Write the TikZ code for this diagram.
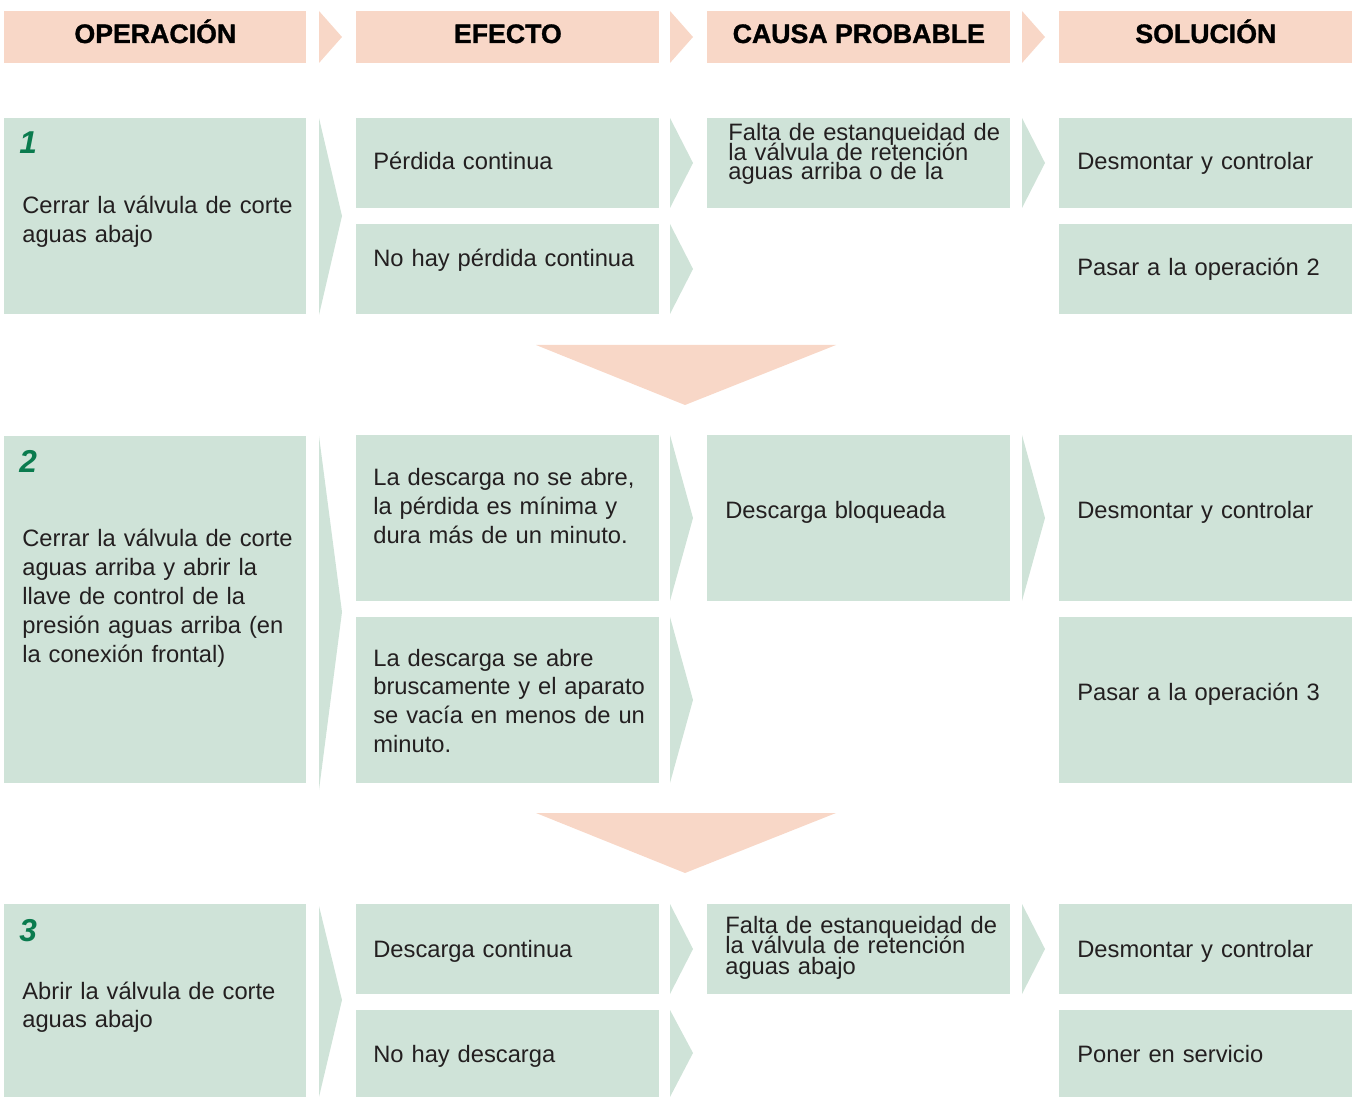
\documentclass[tikz,border=0pt]{standalone}
\usepackage{fontspec}
\setmainfont{Liberation Sans}
\newfontfamily\headfont{Liberation Sans}[UprightFont=*, BoldFont=* Bold, BoldFeatures={FakeBold=1.2}]

\definecolor{peach}{HTML}{F8D7C7}
\definecolor{mint}{HTML}{CFE3D8}
\definecolor{numgreen}{HTML}{0A7B4E}
\definecolor{ink}{HTML}{231F20}

\tikzset{
  headbox/.style={fill=peach, anchor=north west, inner sep=0pt, minimum height=1.04cm},
  headtext/.style={anchor=base, inner sep=0pt, text=black, font=\headfont\fontsize{15.2}{18}\selectfont\bfseries},
  cell/.style={fill=mint, anchor=north west, inner sep=0pt},
  celltext/.style={anchor=base west, inner sep=0pt, text width=6cm, align=left, text=ink, font=\fontsize{13.5}{16.4}\selectfont},
  tight/.style={font=\fontsize{13.5}{11}\selectfont\lineskiplimit-100pt},
  lesstight/.style={font=\fontsize{13.5}{11.9}\selectfont\lineskiplimit-100pt},
  opnum/.style={anchor=base west, inner sep=0pt, text=numgreen, font=\headfont\fontsize{18}{20}\selectfont\bfseries\itshape},
}

\begin{document}
\begin{tikzpicture}[x=0.02cm, y=-0.02cm]
            \useasboundingbox (0,0) rectangle (1352,1097);

            % headers
            \node[headbox, minimum width=6.04cm] (hop) at (4,11) {};
            \node[headbox, minimum width=6.06cm] (hef) at (356,11) {};
            \node[headbox, minimum width=6.06cm] (hca) at (707,11) {};
            \node[headbox, minimum width=5.86cm] (hso) at (1059,11) {};
            \node[headtext] (hop-t) at ([shift={(0,32)}]hop.north) {OPERACIÓN};
            \node[headtext] (hef-t) at ([shift={(0,32)}]hef.north) {EFECTO};
            \node[headtext] (hca-t) at ([shift={(0,32)}]hca.north) {CAUSA PROBABLE};
            \node[headtext] (hso-t) at ([shift={(0,32)}]hso.north) {SOLUCIÓN};
            \fill[peach] (319,11) -- (342,37) -- (319,63) -- cycle;
            \fill[peach] (670,11) -- (693,37) -- (670,63) -- cycle;
            \fill[peach] (1022,11) -- (1045,37) -- (1022,63) -- cycle;

            % operation 1
            \node[cell, minimum width=6.04cm, minimum height=3.92cm] (op1) at (4,118) {};
            \node[cell, minimum width=6.06cm, minimum height=1.8cm] (ef1a) at (356,118) {};
            \node[cell, minimum width=6.06cm, minimum height=1.8cm] (ef1b) at (356,224) {};
            \node[cell, minimum width=6.06cm, minimum height=1.8cm] (ca1) at (707,118) {};
            \node[cell, minimum width=5.86cm, minimum height=1.8cm] (so1a) at (1059,118) {};
            \node[cell, minimum width=5.86cm, minimum height=1.8cm] (so1b) at (1059,224) {};

            \node[opnum] (op1-n) at ([shift={(15,36)}]op1.north west) {1};
            \node[celltext] (op1-t) at ([shift={(18,96)}]op1.north west) {Cerrar la válvula de corte\\aguas abajo};
            \node[celltext] (ef1a-t) at ([shift={(17,52)}]ef1a.north west) {Pérdida continua};
            \node[celltext] (ef1b-t) at ([shift={(17,43)}]ef1b.north west) {No hay pérdida continua};
            \node[celltext, tight] (ca1-t) at ([shift={(21,23)}]ca1.north west) {Falta de estanqueidad de\\la válvula de retención\\aguas arriba o de la};
            \node[celltext] (so1a-t) at ([shift={(18,52)}]so1a.north west) {Desmontar y controlar};
            \node[celltext] (so1b-t) at ([shift={(18,52)}]so1b.north west) {Pasar a la operación 2};

            \fill[mint] (319,118) -- (342,216) -- (319,315) -- cycle;
            \fill[mint] (670,118) -- (693,163) -- (670,208) -- cycle;
            \fill[mint] (670,224) -- (693,269) -- (670,314) -- cycle;
            \fill[mint] (1022,118) -- (1045,163) -- (1022,208) -- cycle;

            \fill[peach] (536,345) -- (836,345) -- (685,405) -- cycle;

            % operation 2
            \node[cell, minimum width=6.04cm, minimum height=6.94cm] (op2) at (4,436) {};
            \node[cell, minimum width=6.06cm, minimum height=3.32cm] (ef2a) at (356,435) {};
            \node[cell, minimum width=6.06cm, minimum height=3.32cm] (ef2b) at (356,617) {};
            \node[cell, minimum width=6.06cm, minimum height=3.32cm] (ca2) at (707,435) {};
            \node[cell, minimum width=5.86cm, minimum height=3.32cm] (so2a) at (1059,435) {};
            \node[cell, minimum width=5.86cm, minimum height=3.32cm] (so2b) at (1059,617) {};

            \node[opnum] (op2-n) at ([shift={(15,37)}]op2.north west) {2};
            \node[celltext] (op2-t) at ([shift={(18,111)}]op2.north west) {Cerrar la válvula de corte\\aguas arriba y abrir la\\llave de control de la\\presión aguas arriba (en\\la conexión frontal)};
            \node[celltext] (ef2a-t) at ([shift={(17,51)}]ef2a.north west) {La descarga no se abre,\\la pérdida es mínima y\\dura más de un minuto.};
            \node[celltext] (ef2b-t) at ([shift={(17,49)}]ef2b.north west) {La descarga se abre\\bruscamente y el aparato\\se vacía en menos de un\\minuto.};
            \node[celltext] (ca2-t) at ([shift={(18,84)}]ca2.north west) {Descarga bloqueada};
            \node[celltext] (so2a-t) at ([shift={(18,84)}]so2a.north west) {Desmontar y controlar};
            \node[celltext] (so2b-t) at ([shift={(18,84)}]so2b.north west) {Pasar a la operación 3};

            \fill[mint] (319,436) -- (342,612) -- (319,790) -- cycle;
            \fill[mint] (670,435) -- (693,518) -- (670,601) -- cycle;
            \fill[mint] (670,617) -- (693,700) -- (670,783) -- cycle;
            \fill[mint] (1022,435) -- (1045,518) -- (1022,601) -- cycle;

            \fill[peach] (536,813) -- (836,813) -- (685,873) -- cycle;

            % operation 3
            \node[cell, minimum width=6.04cm, minimum height=3.86cm] (op3) at (4,904) {};
            \node[cell, minimum width=6.06cm, minimum height=1.8cm] (ef3a) at (356,904) {};
            \node[cell, minimum width=6.06cm, minimum height=1.74cm] (ef3b) at (356,1010) {};
            \node[cell, minimum width=6.06cm, minimum height=1.8cm] (ca3) at (707,904) {};
            \node[cell, minimum width=5.86cm, minimum height=1.8cm] (so3a) at (1059,904) {};
            \node[cell, minimum width=5.86cm, minimum height=1.74cm] (so3b) at (1059,1010) {};

            \node[opnum] (op3-n) at ([shift={(15,37)}]op3.north west) {3};
            \node[celltext] (op3-t) at ([shift={(18,95)}]op3.north west) {Abrir la válvula de corte\\aguas abajo};
            \node[celltext] (ef3a-t) at ([shift={(17,53)}]ef3a.north west) {Descarga continua};
            \node[celltext] (ef3b-t) at ([shift={(17,52)}]ef3b.north west) {No hay descarga};
            \node[celltext, lesstight] (ca3-t) at ([shift={(18,29)}]ca3.north west) {Falta de estanqueidad de\\la válvula de retención\\aguas abajo};
            \node[celltext] (so3a-t) at ([shift={(18,53)}]so3a.north west) {Desmontar y controlar};
            \node[celltext] (so3b-t) at ([shift={(18,52)}]so3b.north west) {Poner en servicio};

            \fill[mint] (319,906) -- (342,1000) -- (319,1097) -- cycle;
            \fill[mint] (670,904) -- (693,949) -- (670,994) -- cycle;
            \fill[mint] (670,1010) -- (693,1053) -- (670,1097) -- cycle;
            \fill[mint] (1022,904) -- (1045,949) -- (1022,994) -- cycle;
        \end{tikzpicture}
\end{document}
